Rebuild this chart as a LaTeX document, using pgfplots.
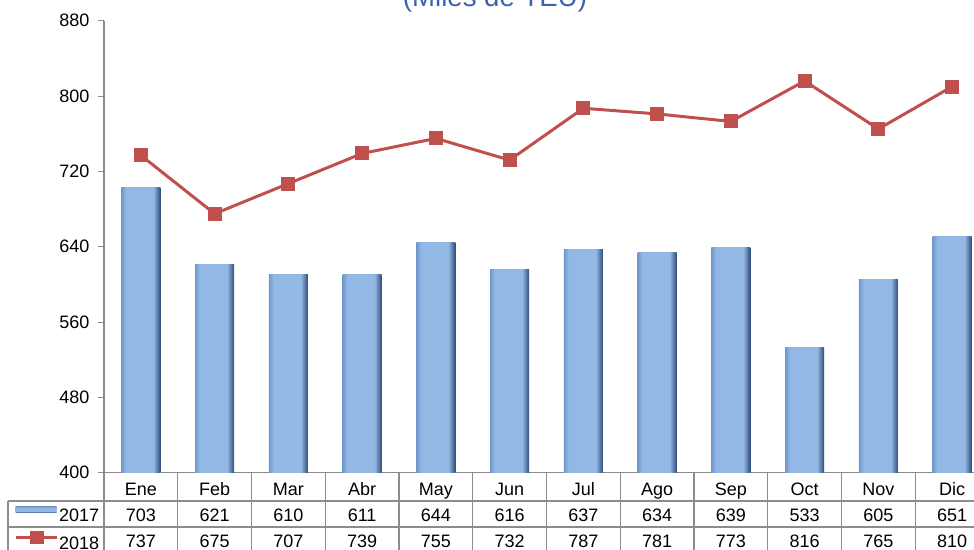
\documentclass[border=0pt]{standalone}
\usepackage{pgfplots}
\pgfplotsset{compat=1.18}
\usepackage{fontspec}
\setmainfont{Liberation Sans}
\definecolor{barleft}{HTML}{7098CC}
\definecolor{barmid}{HTML}{93B8E6}
\definecolor{barright}{HTML}{2F4C76}
\definecolor{lred}{HTML}{C0504D}
\definecolor{tgray}{HTML}{8C8C8C}
\definecolor{ttl}{HTML}{3A62AE}
\pgfdeclarehorizontalshading{barshade}{100bp}{color(0bp)=(barleft); color(25bp)=(barleft); color(31bp)=(barmid); color(66bp)=(barmid); color(75bp)=(barright); color(100bp)=(barright)}
\pgfdeclareverticalshading{legshade}{100bp}{color(0bp)=(barright); color(25bp)=(barright); color(40bp)=(barmid); color(62bp)=(barmid); color(75bp)=(barleft); color(100bp)=(barleft)}
\pgfplotsset{mybar/.style={ybar, bar width=39pt, bar shift=0pt, draw=none, shade, shading=barshade, forget plot}}
\begin{document}
\begin{tikzpicture}[x=1pt,y=1pt]
\begin{axis}[
  scale only axis, width=885pt, height=452pt,
  xmin=-0.5, xmax=11.5, ymin=400, ymax=880,
  axis lines*=left,
  axis line style={tgray, line width=1.2pt},
  xtick={0,...,11},
  xticklabels={Ene,Feb,Mar,Abr,May,Jun,Jul,Ago,Sep,Oct,Nov,Dic},
  ytick={400,480,...,880},
  tick align=outside, major tick length=6pt,
  xtick style={draw=none},
  ytick style={tgray, line width=1pt},
  /pgf/number format/assume math mode=true,
  ticklabel style={font=\fontsize{18}{20}\selectfont},
  xticklabel style={anchor=base, yshift=-16.3pt},
  yticklabel style={xshift=-5pt},
  legend style={at={(axis description cs:-0.1017,-0.0741)}, anchor=north west,
    draw=none, fill=none, inner sep=0pt,
    font=\fontsize{18}{20}\selectfont,
    nodes={inner sep=1pt, text height=13pt, text depth=0pt},
    row sep=9pt},
  legend cell align=left,
  clip=false,
]
\addplot[ybar, bar width=39pt, bar shift=0pt, draw=none, shade, shading=barshade,
  legend image code/.code={\path[shade, shading=legshade] (0pt,2pt) rectangle (41pt,8.5pt);}]
  coordinates {(0,703)};
\addlegendentry{2017}
\addplot[mybar] coordinates {(1,621)};
\addplot[mybar] coordinates {(2,610)};
\addplot[mybar] coordinates {(3,611)};
\addplot[mybar] coordinates {(4,644)};
\addplot[mybar] coordinates {(5,616)};
\addplot[mybar] coordinates {(6,637)};
\addplot[mybar] coordinates {(7,634)};
\addplot[mybar] coordinates {(8,639)};
\addplot[mybar] coordinates {(9,533)};
\addplot[mybar] coordinates {(10,605)};
\addplot[mybar] coordinates {(11,651)};
\addplot[lred, line width=3pt, mark=square*, mark size=6.5pt, mark options={fill=lred, draw=lred, line width=0pt},
  legend image code/.code={\draw[line width=3pt] (0pt,5pt) -- (41pt,5pt); \fill (16pt,0pt) rectangle (27pt,10pt);}]
  coordinates {(0,737) (1,675) (2,707) (3,739) (4,755) (5,732) (6,787) (7,781) (8,773) (9,816) (10,765) (11,810)};
\addlegendentry{2018}
\end{axis}
% data table grid
\draw[tgray, line width=1.2pt] (-96,-28.3) -- (885,-28.3);
\draw[tgray, line width=1.2pt] (-96,-54.3) -- (885,-54.3);
\draw[tgray, line width=1.2pt] (-96,-28.3) -- (-96,-90);
\draw[tgray, line width=1.2pt] (0,0) -- (0,-90);
\foreach \k in {1,...,12} {\draw[tgray, line width=1.2pt] ({\k*73.75},0) -- ({\k*73.75},-90);}
\foreach \v [count=\i from 0] in {703,621,610,611,644,616,637,634,639,533,605,651}
  {\node[anchor=base, inner sep=0pt, font=\fontsize{18}{20}\selectfont] at ({(\i+0.5)*73.75},-48.3) {\v};}
\foreach \v [count=\i from 0] in {737,675,707,739,755,732,787,781,773,816,765,810}
  {\node[anchor=base, inner sep=0pt, font=\fontsize{18}{20}\selectfont] at ({(\i+0.5)*73.75},-74.3) {\v};}
\node[anchor=base, inner sep=0pt, text=ttl, font=\fontsize{27.6}{30}\selectfont] at (391,465.7) {(Miles de TEU)};
\pgfresetboundingbox
\path[use as bounding box] (-104,-76.3) rectangle (870,472.7);
\end{tikzpicture}
\end{document}
